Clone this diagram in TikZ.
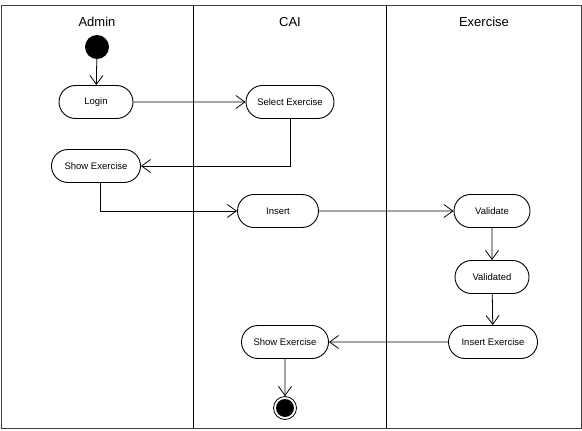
\documentclass[tikz,border=0pt]{standalone}
\usepackage{fontspec}
\setmainfont{Liberation Sans}
\usetikzlibrary{arrows.meta,shapes.misc}
\begin{document}
\begin{tikzpicture}[x=1pt,y=-1pt,
  act/.style={draw,rounded rectangle,minimum height=33pt,font=\fontsize{9.5}{10}\selectfont,inner xsep=6pt,line width=0.9pt},
  flow/.style={draw,line width=0.8pt,-{Straight Barb[length=9pt,width=13pt]}},
  lane/.style={draw,line width=0.8pt},
  title/.style={font=\fontsize{13}{15}\selectfont}]
\useasboundingbox (0,0) rectangle (582,431);
\draw[lane,draw=black!75] (1,5) rectangle (581,428);
\draw[lane] (193,5) -- (193,428);
\draw[lane] (386,5) -- (386,428);
\node[title] (tA) at (97,22) {Admin};
\node[title] (tC) at (290,22) {CAI};
\node[title] (tE) at (484,22) {Exercise};
\node[circle,fill=black,minimum size=24pt,inner sep=0pt] (start) at (97,47) {};
\node[act,minimum width=86pt] (login) at (96,102) {Login};
\node[act,minimum width=100pt] (sel) at (290,102) {Select Exercise};
\node[act,minimum width=101pt] (show1) at (96,166) {Show Exercise};
\node[act,minimum width=93pt] (ins) at (278,211) {Insert};
\node[act,minimum width=88pt] (val) at (492,211) {Validate};
\node[act,minimum width=86pt] (vald) at (492,277) {Validated};
\node[act,minimum width=101pt] (insex) at (493,342) {Insert Exercise};
\node[act,minimum width=99pt] (show2) at (285,342) {Show Exercise};
\node[circle,draw,line width=0.8pt,minimum size=23pt,inner sep=0pt] (end) at (285,408) {};
\node[circle,fill=black,minimum size=18pt,inner sep=0pt] (endin) at (285,408) {};
\draw[flow] (start) -- (login);
\draw[flow] (login) -- (sel);
\draw[flow] (sel.south) |- (show1.east);
\draw[flow] (show1.south) ++(4,0) coordinate (s1) |- (ins.west);
\draw[flow] (ins) -- (val);
\draw[flow] (val) -- (vald);
\draw[flow] (vald) -- (insex);
\draw[flow] (insex) -- (show2);
\draw[flow] (show2) -- (end);
\end{tikzpicture}
\end{document}
